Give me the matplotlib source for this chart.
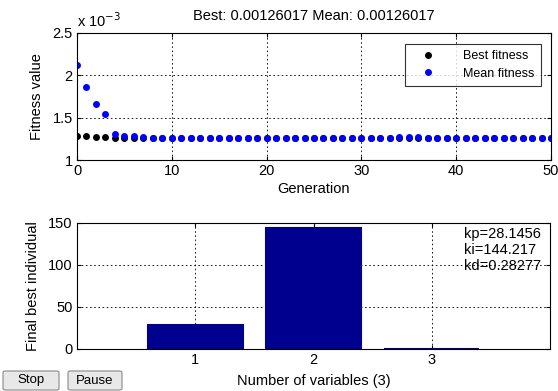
import matplotlib
matplotlib.use("Agg")
import matplotlib.pyplot as plt
from matplotlib.patches import FancyBboxPatch

plt.rcParams['font.family'] = ['Liberation Sans', 'DejaVu Sans']
plt.rcParams['font.size'] = 10.5

generations = list(range(0, 51))
best_fitness = [1.283e-3, 1.283e-3, 1.270e-3, 1.270e-3, 1.265e-3, 1.265e-3, 1.265e-3, 1.2602e-3] + [1.26017e-3] * 43
mean_fitness = [2.122e-3, 1.866e-3, 1.661e-3, 1.543e-3, 1.303e-3, 1.289e-3, 1.289e-3, 1.266e-3] + \
    [1.2602e-3] * 26 + [1.268e-3, 1.270e-3, 1.268e-3] + [1.2602e-3] * 14
var_index = [1, 2, 3]
var_values = [28.1456, 144.217, 0.28277]
var_labels = ['kp=28.1456', 'ki=144.217', 'kd=0.28277']
title_text = 'Best: 0.00126017 Mean: 0.00126017'

fig = plt.figure(figsize=(5.58, 3.91), dpi=100)
fig.patch.set_facecolor('white')
W, H = 558, 391

def ax_rect(l, t, r, b):
    return [l / W, 1 - b / H, (r - l) / W, (b - t) / H]

grid_kw = dict(color='black', linestyle=(0, (2, 3)), linewidth=0.6)

# Top axes
ax1 = fig.add_axes(ax_rect(77, 33, 551, 160))
scale = 1e3
ax1.plot(generations, [v * scale for v in best_fitness], 'o', color='black', ms=5, mew=0, label='Best fitness')
ax1.plot(generations, [v * scale for v in mean_fitness], 'o', color='#0000FF', ms=5, mew=0, label='Mean fitness')
ax1.set_xlim(0, 50)
ax1.set_ylim(1, 2.5)
ax1.set_xticks([0, 10, 20, 30, 40, 50])
ax1.set_yticks([1, 1.5, 2, 2.5])
ax1.set_yticklabels(['1', '1.5', '2', '2.5'])
ax1.grid(True, **grid_kw)
ax1.tick_params(direction='in', length=3, top=True, right=True, pad=3)
ax1.set_xlabel('Generation', labelpad=2.5)
ax1.set_ylabel('Fitness value', labelpad=6)
ax1.set_title(title_text, fontsize=10.5, pad=9)
fig.text(77 / W, 1 - 21 / H, r'x 10$^{-3}$', fontsize=10.5, va='center', ha='left')
leg = ax1.legend(loc='upper right', fontsize=9, frameon=True, fancybox=False, edgecolor='black',
                 markerfirst=True, handletextpad=1.4, borderpad=0.5, labelspacing=0.45,
                 bbox_to_anchor=(0.992, 0.965), handlelength=2.8)
leg.get_frame().set_linewidth(0.8)
for s in ax1.spines.values():
    s.set_linewidth(0.8)

# Bottom axes
ax2 = fig.add_axes(ax_rect(77, 223, 550, 349))
ax2.bar(var_index, var_values, width=0.8, color='#00008F', edgecolor='#00008F', linewidth=1.5)
ax2.set_xlim(0, 4)
ax2.set_ylim(0, 150)
ax2.set_xticks(var_index)
ax2.set_yticks([0, 50, 100, 150])
ax2.grid(True, **grid_kw)
ax2.set_axisbelow(True)
ax2.tick_params(direction='in', length=3, top=True, right=True, pad=3)
ax2.set_xlabel('Number of variables (3)', labelpad=5)
ax2.set_ylabel('Final best individual', labelpad=6)
ax2.text(0.818, 0.965, '\n'.join(var_labels), transform=ax2.transAxes, va='top', ha='left',
         fontsize=10.5, linespacing=1.15)
for s in ax2.spines.values():
    s.set_linewidth(0.8)

# Buttons
def button(l, t, r, b, label):
    p = FancyBboxPatch((l / W, 1 - b / H), (r - l) / W, (b - t) / H,
                       boxstyle='round,pad=0,rounding_size=0.004', transform=fig.transFigure,
                       facecolor='#E8E8E8', edgecolor='#8A8A8A', linewidth=0.8)
    fig.patches.append(p)
    fig.text((l + r) / 2 / W, 1 - (t + b) / 2 / H, label, ha='center', va='center', fontsize=9.5)

button(3, 371, 59, 390, 'Stop')
button(68, 371, 122, 390, 'Pause')

fig.savefig('out.png', dpi=100, facecolor='white')
